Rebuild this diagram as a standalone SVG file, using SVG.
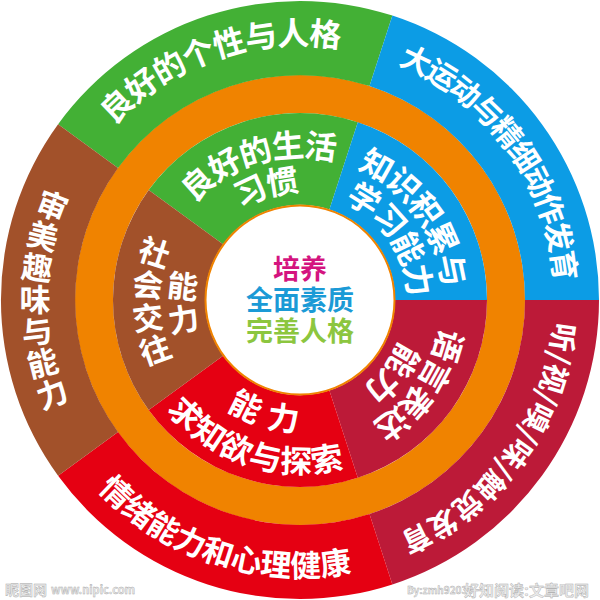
<svg xmlns="http://www.w3.org/2000/svg" width="600" height="600" viewBox="0 0 600 600">
<style>
text{font-family:"Noto Sans CJK SC","Noto Sans",sans-serif}
.w{fill:#fff;font-weight:700;text-anchor:middle;font-size:32px}
.v{writing-mode:vertical-rl;text-orientation:upright}
.c{font-weight:700;font-size:27px;text-anchor:middle}
.wm{fill:#ececec;stroke:#a8a8a8;stroke-width:.4;font-weight:700}
</style>
<defs>
<path id="o255" d="M79.2 427.5A255 255 0 1 1 520.8 427.5"/>
<path id="i143" d="M176.2 371.5A143 143 0 1 1 423.8 371.5"/>
<path id="i108" d="M206.5 354A108 108 0 1 1 393.5 354"/>
<path id="b277" d="M60.1 161.5A277 277 0 1 0 539.9 161.5"/>
<path id="b173" d="M150.2 213.5A173 173 0 1 0 449.8 213.5"/>
<path id="b131" d="M186.6 234.5A131 131 0 1 0 413.4 234.5"/>
<path id="l265" d="M167.5 70.5A265 265 0 0 0 167.5 529.5"/>
<path id="l153" d="M223.5 167.5A153 153 0 0 0 223.5 432.5"/>
<path id="l118" d="M241 197.8A118 118 0 0 0 241 402.2"/>
</defs>
<rect width="600" height="600" fill="#fff"/>
<g id="connectors">
<circle cx="300" cy="300" r="206" fill="none" stroke="#f08300" stroke-width="38"/>
</g>
<g id="node-outer-green">
<path d="M58.1 124.2A299 299 0 0 1 392.4 15.6L369.5 86.1A225 225 0 0 0 118 168Z" fill="#43b035"/>
<text class="w" transform="rotate(-19 300 300)" style="letter-spacing:-1px"><textPath href="#o255" startOffset="50%">良好的个性与人格</textPath></text>
</g>
<g id="node-outer-blue">
<path d="M392.4 15.6A299 299 0 0 1 599 300H525A225 225 0 0 0 369.5 86.1Z" fill="#0c9ce5"/>
<text class="w" transform="rotate(54 300 300)" style="font-size:30px;letter-spacing:-2px"><textPath href="#o255" startOffset="50%">大运动与精细动作发育</textPath></text>
</g>
<g id="node-outer-crimson">
<path d="M599 300A299 299 0 0 1 392.4 584.4L369.5 514A225 225 0 0 0 525 300Z" fill="#bc1a38"/>
<text class="w" transform="rotate(126 300 300)" style="font-size:29px"><textPath href="#o255" startOffset="50%">听/视/嗅/味/触觉发育</textPath></text>
</g>
<g id="node-outer-red">
<path d="M392.4 584.4A299 299 0 0 1 58.1 475.8L118 432A225 225 0 0 0 369.5 514Z" fill="#e50012"/>
<text class="w" transform="rotate(18 300 300)" style="font-size:31px"><textPath href="#b277" startOffset="50%">情绪能力和心理健康</textPath></text>
</g>
<g id="node-outer-brown">
<path d="M58.1 475.8A299 299 0 0 1 58.1 124.2L118 168A225 225 0 0 0 118 432Z" fill="#a2512a"/>
<text class="w v" style="font-size:31px;letter-spacing:1px"><textPath href="#l265" startOffset="50%">审美趣味与能力</textPath></text>
</g>
<g id="node-inner-green">
<path d="M148.7 190.1A187 187 0 0 1 357.8 122.2L329.4 209.5A95 95 0 0 0 223.1 244.2Z" fill="#43b035"/>
<text class="w" transform="rotate(-17 300 300)" style="letter-spacing:-1.5px"><textPath href="#i143" startOffset="50%">良好的生活</textPath></text>
<text class="w" transform="rotate(-17 300 300)" style="letter-spacing:-2px"><textPath href="#i108" startOffset="50%">习惯</textPath></text>
</g>
<g id="node-inner-blue">
<path d="M357.8 122.2A187 187 0 0 1 487 300H395A95 95 0 0 0 329.4 209.5Z" fill="#0c9ce5"/>
<text class="w" transform="rotate(54 300 300)" style="letter-spacing:-1.5px"><textPath href="#i143" startOffset="50%">知识积累与</textPath></text>
<text class="w" transform="rotate(56 300 300)" style="letter-spacing:-2px"><textPath href="#i108" startOffset="50%">学习能力</textPath></text>
</g>
<g id="node-inner-crimson">
<path d="M487 300A187 187 0 0 1 357.8 477.8L329.4 390.5A95 95 0 0 0 395 300Z" fill="#bc1a38"/>
<text class="w" transform="rotate(125 300 300)" style="letter-spacing:-2px"><textPath href="#i143" startOffset="50%">语言表达</textPath></text>
<text class="w" transform="rotate(128 300 300)" style="letter-spacing:-2px"><textPath href="#i108" startOffset="50%">能力</textPath></text>
</g>
<g id="node-inner-red">
<path d="M357.8 477.8A187 187 0 0 1 148.7 410L223.1 355.8A95 95 0 0 0 329.4 390.5Z" fill="#e50012"/>
<text class="w" transform="rotate(17.6 300 300)" style="letter-spacing:1px"><textPath href="#b173" startOffset="50%">求知欲与探索</textPath></text>
<text class="w" transform="rotate(17 300 300)" style="letter-spacing:2px"><textPath href="#b131" startOffset="50%">能 力</textPath></text>
</g>
<g id="node-inner-brown">
<path d="M148.7 410A187 187 0 0 1 148.7 190.1L223.1 244.2A95 95 0 0 0 223.1 355.8Z" fill="#a2512a"/>
<text class="w v" transform="rotate(-0.8 300 300)" style="font-size:31px;letter-spacing:2px"><textPath href="#l153" startOffset="50%">社会交往</textPath></text>
<text class="w v" transform="rotate(-1.7 300 300)" style="font-size:31px;letter-spacing:2px"><textPath href="#l118" startOffset="50%">能力</textPath></text>
</g>
<g id="node-center">
<circle cx="300" cy="300" r="94.5" fill="#fff" stroke="#f08300" stroke-width="2"/>
<text class="c" x="300" y="279" fill="#d4147f">培养</text>
<text class="c" x="300" y="310" fill="#1b9ad6">全面素质</text>
<text class="c" x="300" y="341" fill="#8cc63f">完善人格</text>
</g>
<g id="watermarks">
<text class="wm" x="5" y="595" font-size="14">昵图网</text>
<text class="wm" x="51" y="594" font-size="11">www.nipic.com</text>
<text class="wm" x="407" y="594" font-size="10">By:zmh92030</text>
<text class="wm" x="464" y="596" font-size="15">好知阅读:文章吧网</text>
</g>
</svg>
